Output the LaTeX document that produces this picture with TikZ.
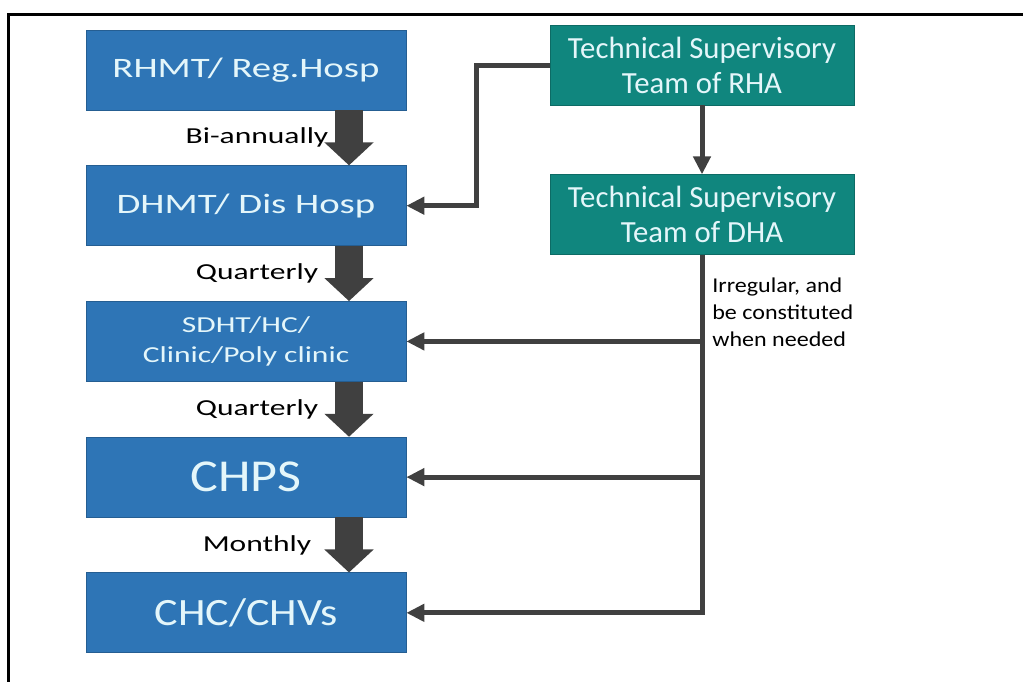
\documentclass[tikz,border=0pt]{standalone}
\usepackage{fontspec}
\setmainfont{Carlito}
\newfontfamily\widefont[FakeStretch=1.38]{Carlito}
\newfontfamily\halffont[FakeStretch=1.14]{Carlito}
\usetikzlibrary{positioning,arrows.meta,calc}
\definecolor{blx}{RGB}{46,117,182}
\definecolor{tlx}{RGB}{16,134,126}
\definecolor{txx}{RGB}{228,246,250}
\colorlet{arx}{black!75}
\tikzset{
    lvl/.style={fill=blx,draw=blx!80!black,text=txx,minimum width=6.4cm,minimum height=1.6cm,inner sep=0pt,align=center},
    tsup/.style={fill=tlx,draw=tlx!80!black,text=txx,minimum width=6.08cm,minimum height=1.6cm,inner sep=0pt,align=center,
        font=\fontsize{17.5}{20}\selectfont},
    fat/.style={arx,line width=0.56cm,-{Triangle[width=0.96cm,length=0.46cm]}},
    conn/.style={arx,line width=0.1cm,-{Triangle[width=0.34cm,length=0.36cm]}},
    freq/.style={font=\widefont\fontsize{13}{15}\selectfont,inner sep=0pt}
}
\begin{document}
\begin{tikzpicture}
    \useasboundingbox (0,0) rectangle (20.46,-13.64);
    % frame
    \draw[line width=0.06cm] (20.46,-0.28) -- (0.18,-0.28) -- (0.18,-13.64);
    % levels
    \node [lvl,font=\widefont\fontsize{16}{19}\selectfont] (rhmt) at (4.92,-1.40) {RHMT/ Reg.Hosp};
    \node [lvl,font=\widefont\fontsize{16}{19}\selectfont,below=1.1cm of rhmt] (dhmt) {DHMT/ Dis Hosp};
    \node [lvl,font=\widefont\fontsize{13}{17}\selectfont,below=1.1cm of dhmt] (sdht) {SDHT/HC/\\Clinic/Poly clinic};
    \node [lvl,font=\halffont\fontsize{26}{30}\selectfont,below=1.1cm of sdht] (chps) {CHPS};
    \node [lvl,font=\halffont\fontsize{22}{26}\selectfont,below=1.1cm of chps] (chc) {CHC/CHVs};
    % supervisory teams
    \node [tsup] (rha) at (14.04,-1.30) {Technical Supervisory\\Team of RHA};
    \node [tsup,below=1.38cm of rha] (dha) {Technical Supervisory\\Team of DHA};
    % visits down the levels
    \foreach \a/\b/\t in {rhmt/dhmt/Bi-annually,dhmt/sdht/Quarterly,sdht/chps/Quarterly,chps/chc/Monthly} {
        \draw [fat] ([xshift=2.06cm]\a.south) -- ([xshift=2.06cm]\b.north);
        \node [freq] (f-\a) at ([xshift=0.22cm]$(\a.south)!0.5!(\b.north)$) {\t};
    }
    % supervision
    \draw [conn] (rha.west) -- ++(-1.46cm,0) |- (dhmt.east);
    \draw [conn] (rha.south) -- (dha.north);
    \draw [conn] (dha.south) |- (chc.east);
    \foreach \n in {sdht,chps} {
        \draw [conn] (dha.south |- \n.east) -- (\n.east);
    }
    \node [anchor=north west,align=left,inner sep=0pt,font=\halffont\fontsize{12}{15.4}\selectfont]
        (irr) at ([xshift=0.2cm,yshift=-0.45cm]dha.south) {Irregular, and\\be constituted\\when needed};
\end{tikzpicture}
\end{document}
